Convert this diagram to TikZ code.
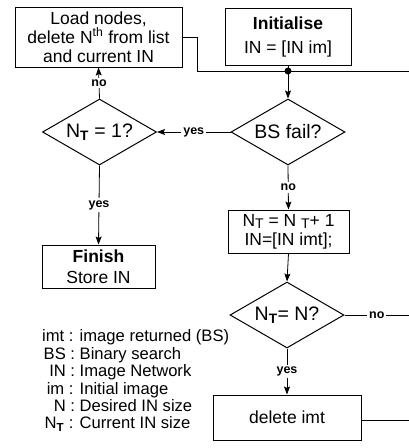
\documentclass[tikz,border=0pt]{standalone}
\usepackage{fontspec}
\setmainfont{Liberation Sans}
\usetikzlibrary{shapes.geometric,arrows.meta,positioning}

\newcommand{\subT}{\textsubscript{\textbf{T}}}

\begin{document}
\begin{tikzpicture}[
    x=1pt, y=-1pt,
    >={Stealth[length=8pt,width=6pt,inset=1.5pt]},
    every node/.style={font=\fontsize{17.5}{19}\selectfont},
    procbox/.style={rectangle, draw, line width=1pt, align=center, inner sep=1pt},
    decision/.style={diamond, draw, line width=1pt, aspect=1.7, inner sep=0pt, minimum width=114pt, minimum height=66pt, align=center, font=\fontsize{19.5}{20}\selectfont},
    arrow/.style={->, line width=0.8pt},
    plainline/.style={line width=0.8pt},
    answer/.style={fill=white, inner sep=2pt, font=\fontsize{12.5}{13}\selectfont\bfseries},
    keytext/.style={font=\fontsize{16.6}{17.4}\selectfont, inner sep=0pt, anchor=west}
]
\useasboundingbox (0,0) rectangle (409,448);

% Top row
\node[procbox, minimum width=167pt, minimum height=60pt] (load) at (98.5,37) {Load nodes,\\ delete N\textsuperscript{th} from list\\ and current IN};
\node[procbox, minimum width=126pt, minimum height=57pt] (init) at (288,36.5) {\textbf{Initialise}\\[5pt] IN = [IN im]};

% Loop back junction
\coordinate (jn) at (288,71);
\coordinate (bend) at (197,71);
\coordinate (outA) at (409,71);
\fill (jn) circle (3.5pt);

% Decisions
\node[decision] (bsfail) at (288,132) {BS fail?};
\node[decision] (ntone) at (99.5,132) {N\subT{} = 1?};
\node[decision] (ntn) at (287,315) {N\subT= N?};

% Process boxes
\node[procbox, minimum width=113pt, minimum height=43pt] (finish) at (98.5,266.5) {\textbf{Finish}\\[2pt] Store IN};
\node[procbox, minimum width=121pt, minimum height=43pt] (incr) at (288.5,231.5) {N\raisebox{-0.3ex}{\fontsize{14}{14}\selectfont T} = N \raisebox{-0.3ex}{\fontsize{14}{14}\selectfont T}+ 1\\ IN=[IN imt];};
\node[procbox, minimum width=148pt, minimum height=45pt] (delimt) at (287,417.5) {delete imt};
\coordinate (outB) at (409,315);
\coordinate (outC) at (409,420);

% Legend
\node[keytext] (key) at (42,382) {%
  \begin{tabular}{@{}r@{ : }l@{}}
  imt & image returned (BS)\\
  BS & Binary search\\
  IN & Image Network\\
  im & Initial image\\
  N & Desired IN size\\
  N\subT & Current IN size
  \end{tabular}};

% Connectors
\draw[plainline] (init.south) -- (jn);
\draw[plainline] (load.east) -| (bend) -- (outA);
\draw[arrow] (jn) -- (bsfail.north);
\draw[arrow] (bsfail.west) -- node[answer] {yes} (ntone.east);
\draw[arrow] (ntone.north) -- node[answer] {no} (load.south);
\draw[arrow] (ntone.south) -- node[answer] {yes} (finish.north);
\draw[arrow] (bsfail.south) -- node[answer] {no} (incr.north);
\draw[arrow] (incr.south) -- (ntn.north);
\draw[plainline] (ntn.east) -- node[answer] {no} (outB);
\draw[arrow] (ntn.south) -- node[answer] {yes} (delimt.north);
\draw[plainline] (delimt.east |- outC) -- (outC);

\end{tikzpicture}
\end{document}
